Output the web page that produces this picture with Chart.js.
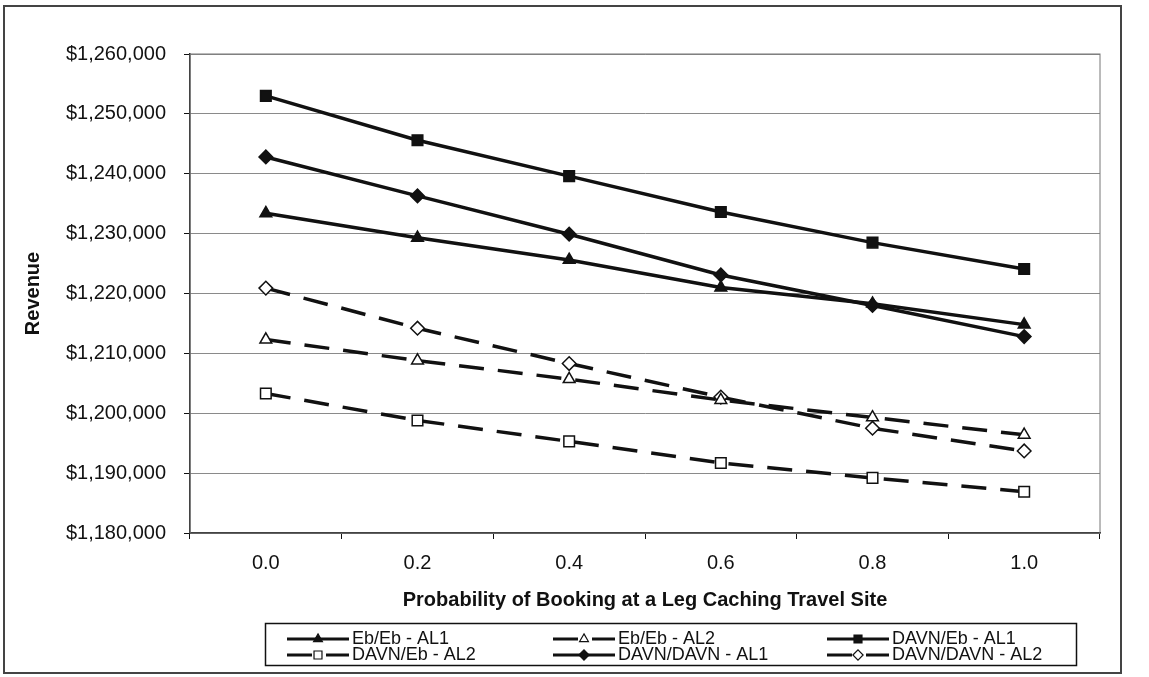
<!DOCTYPE html>
<html>
<head>
<meta charset="utf-8">
<title>Revenue vs Leg Caching Probability</title>
<script src="https://cdn.jsdelivr.net/npm/chart.js@4"></script>
<style>
body { margin: 0; background: #fff; }
canvas { display: block; }
</style>
</head>
<body>
<canvas id="revChart" width="1149" height="677"></canvas>
<script>
// probability of booking at a leg caching travel site
const probs = ["0.0", "0.2", "0.4", "0.6", "0.8", "1.0"];

// revenue ($) for each scenario
const ebEbAL1     = [1233400, 1229300, 1225600, 1221000, 1218300, 1214800];
const ebEbAL2     = [1212300, 1208800, 1205700, 1202200, 1199300, 1196400];
const davnEbAL1   = [1253000, 1245600, 1239600, 1233600, 1228500, 1224100];
const davnEbAL2   = [1203300, 1198800, 1195300, 1191700, 1189200, 1186900];
const davnDavnAL1 = [1242800, 1236300, 1229900, 1223100, 1218000, 1212800];
const davnDavnAL2 = [1220900, 1214200, 1208300, 1202700, 1197500, 1193700];

const yTicks = { min: 1180000, max: 1260000, step: 10000 };

const FONT = "'Liberation Sans', Arial, sans-serif";
const INK = '#111';

function series(label, data, shape, open) {
  return {
    label,
    data,
    borderColor: INK,
    borderWidth: 3.5,
    borderDash: open ? [25, 14] : [],
    pointStyle: shape,
    pointRadius: shape === 'rect' ? 7.5 : 6.8,
    pointBackgroundColor: open ? '#fff' : INK,
    pointBorderColor: INK,
    pointBorderWidth: 1.5,
    tension: 0,
    fill: false
  };
}

// grey box round the plot area
const plotFrame = {
  id: 'plotFrame',
  beforeDatasetsDraw(chart) {
    const { ctx, chartArea: a } = chart;
    ctx.save();
    ctx.strokeStyle = '#777';
    ctx.lineWidth = 1;
    ctx.strokeRect(a.left, a.top, a.right - a.left, a.bottom - a.top);
    ctx.restore();
  }
};

// boxed legend, 3 columns x 2 rows, line + marker samples
const boxLegend = {
  id: 'boxLegend',
  afterDraw(chart) {
    const ctx = chart.ctx;
    ctx.save();
    // outer border of the whole figure
    ctx.strokeStyle = '#444';
    ctx.lineWidth = 2;
    ctx.strokeRect(4, 6, 1117, 667);

    ctx.strokeStyle = INK;
    ctx.lineWidth = 1.5;
    ctx.strokeRect(265.5, 623.5, 811, 42);

    const cols = [287, 553, 827];
    const rows = [639, 655];
    chart.data.datasets.forEach((ds, i) => {
      const x = cols[i % 3];
      const y = rows[Math.floor(i / 3)];
      ctx.strokeStyle = ds.borderColor;
      ctx.lineWidth = 3;
      ctx.setLineDash(ds.borderDash);
      ctx.beginPath();
      ctx.moveTo(x, y);
      ctx.lineTo(x + 62, y);
      ctx.stroke();
      ctx.setLineDash([]);

      ctx.fillStyle = ds.pointBackgroundColor;
      ctx.strokeStyle = ds.pointBorderColor;
      ctx.lineWidth = 1.2;
      Chart.helpers.drawPoint(ctx, {
        pointStyle: ds.pointStyle,
        radius: ds.pointRadius * 0.75,
        borderWidth: 1.2,
        rotation: 0
      }, x + 31, y);

      ctx.fillStyle = INK;
      ctx.font = '18px ' + FONT;
      ctx.textAlign = 'left';
      ctx.textBaseline = 'middle';
      ctx.fillText(ds.label, x + 65, y);
    });
    ctx.restore();
  }
};

new Chart(document.getElementById('revChart'), {
  type: 'line',
  data: {
    labels: probs,
    datasets: [
      series('Eb/Eb - AL1', ebEbAL1, 'triangle', false),
      series('Eb/Eb - AL2', ebEbAL2, 'triangle', true),
      series('DAVN/Eb - AL1', davnEbAL1, 'rect', false),
      series('DAVN/Eb - AL2', davnEbAL2, 'rect', true),
      series('DAVN/DAVN - AL1', davnDavnAL1, 'rectRot', false),
      series('DAVN/DAVN - AL2', davnDavnAL2, 'rectRot', true)
    ]
  },
  options: {
    responsive: false,
    animation: false,
    devicePixelRatio: 1,
    layout: { padding: { left: 0, top: 54, right: 49, bottom: 54 } },
    plugins: {
      legend: { display: false },
      tooltip: { enabled: false }
    },
    scales: {
      x: {
        offset: true,
        grid: { drawOnChartArea: false, offset: true, tickLength: 6, tickColor: INK },
        border: { color: INK, width: 1.5 },
        ticks: { color: INK, font: { family: FONT, size: 20 }, padding: 12 },
        title: {
          display: true,
          text: 'Probability of Booking at a Leg Caching Travel Site',
          color: INK,
          font: { family: FONT, size: 20, weight: 'bold' },
          padding: { top: 0, bottom: 11 }
        },
        afterFit: s => { s.height = 90; }
      },
      y: {
        min: yTicks.min,
        max: yTicks.max,
        ticks: {
          stepSize: yTicks.step,
          color: INK,
          font: { family: FONT, size: 20 },
          padding: 18,
          callback: v => '$' + v.toLocaleString('en-US')
        },
        grid: { color: '#8a8a8a', lineWidth: 1, tickLength: 6, tickColor: INK },
        border: { color: INK, width: 1.5 },
        title: {
          display: true,
          text: 'Revenue',
          color: INK,
          font: { family: FONT, size: 20, weight: 'bold' },
          padding: { top: 21, bottom: 0 }
        },
        afterFit: s => { s.width = 190; }
      }
    }
  },
  plugins: [plotFrame, boxLegend]
});
</script>
</body>
</html>
